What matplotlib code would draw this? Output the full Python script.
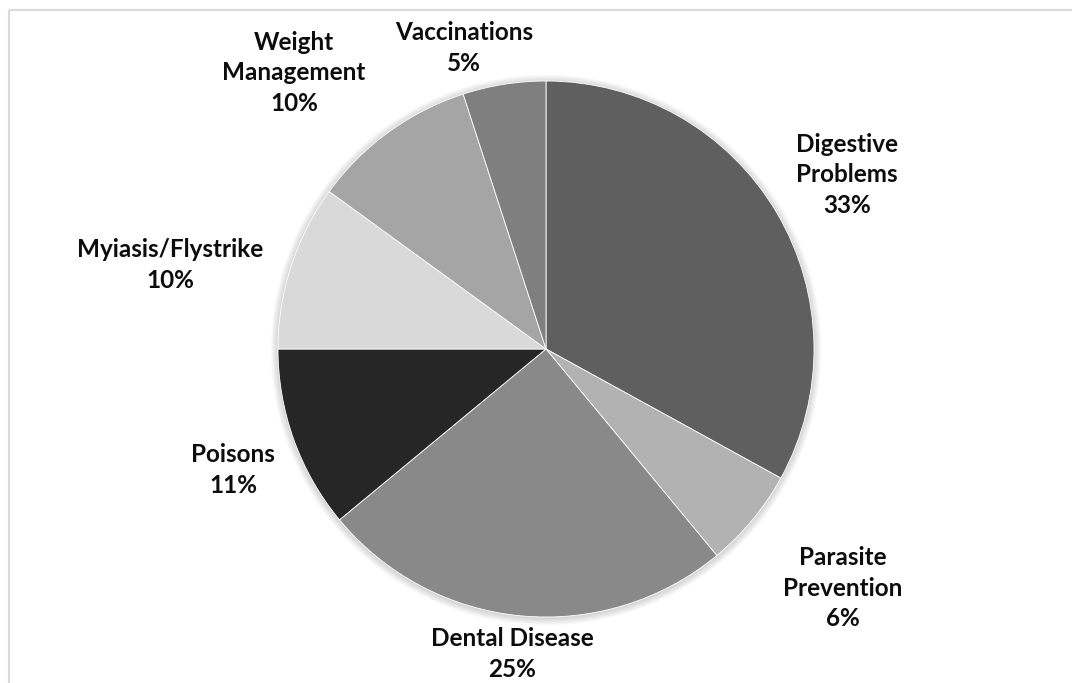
import matplotlib
matplotlib.use("Agg")
import matplotlib.pyplot as plt
from matplotlib.patches import Circle

categories = ["Digestive\nProblems", "Parasite\nPrevention", "Dental Disease", "Poisons",
              "Myiasis/Flystrike", "Weight\nManagement", "Vaccinations"]
values = [33, 6, 25, 11, 10, 10, 5]
colors = ["#5f5f5f", "#b2b2b2", "#898989", "#262626", "#d9d9d9", "#a5a5a5", "#7f7f7f"]
label_pos = [(847, 175), (843, 588), (512, 654), (233, 470), (170, 265), (294, 73), (464, 48)]

W, H = 1072, 683
fig = plt.figure(figsize=(W / 100, H / 100), dpi=100)
ax = fig.add_axes([0, 0, 1, 1])

cx, cy, r = 546, 349, 268

# soft shadow
for i in range(8):
    ax.add_patch(Circle((cx, cy + 1), r + 1 + i * 0.9, color="black", alpha=0.018, lw=0, zorder=1))

# y axis is flipped below, so counterclock=True with startangle=-90 runs clockwise from 12 o'clock
wedges, _ = ax.pie(values, colors=colors, startangle=-90, counterclock=True,
                   center=(cx, cy), radius=r,
                   wedgeprops=dict(edgecolor="white", linewidth=0.6, zorder=2),
                   frame=True)
ax.set_xlim(0, W)
ax.set_ylim(H, 0)
ax.set_aspect("equal")
ax.axis("off")

for cat, v, (x, y) in zip(categories, values, label_pos):
    ax.text(x, y, f"{cat}\n{v}%", ha="center", va="center", fontsize=17.5,
            fontweight="bold", family="Lato", linespacing=1.41, color="#0d0d0d", zorder=5)

# chart border (top and left visible)
ax.plot([8.5, 8.5], [H + 5, 9.5], color="#d9d9d9", lw=1.5, zorder=6, solid_capstyle="butt")
ax.plot([8.5, W + 5], [9.5, 9.5], color="#d9d9d9", lw=1.5, zorder=6, solid_capstyle="butt")

fig.savefig("out.png", dpi=100)
